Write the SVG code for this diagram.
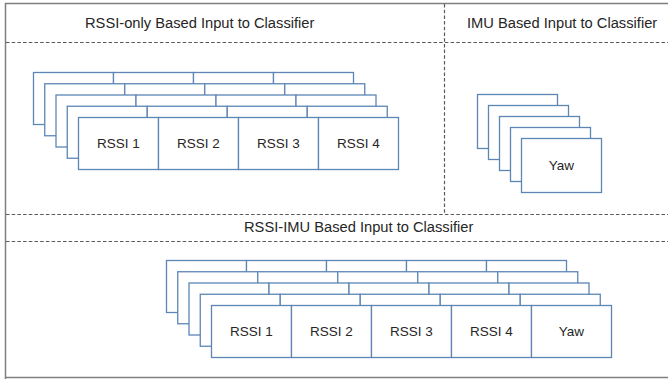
<svg xmlns="http://www.w3.org/2000/svg" width="668" height="379" viewBox="0 0 668 379">
<style>
.frame{fill:none;stroke:#7f7f7f;stroke-width:1.5}
.dash{fill:none;stroke:#595959;stroke-width:1.2;stroke-dasharray:3.5 2.2}
.cell{fill:#ffffff;stroke:#5d86b5;stroke-width:1.3}
.title{font-family:"Liberation Sans",Arial,sans-serif;font-size:14.7px;fill:#262626}
.lbl{font-family:"Liberation Sans",Arial,sans-serif;font-size:13.5px;fill:#262626;text-anchor:middle}
</style>
<defs>
<g id="row4">
<rect class="cell" x="0" y="0" width="80" height="52"/>
<rect class="cell" x="80" y="0" width="80" height="52"/>
<rect class="cell" x="160" y="0" width="80" height="52"/>
<rect class="cell" x="240" y="0" width="80" height="52"/>
</g>
<g id="row5">
<use href="#row4"/>
<rect class="cell" x="320" y="0" width="80" height="52"/>
</g>
<rect id="imu" class="cell" x="0" y="0" width="80" height="54"/>
</defs>
<rect width="668" height="379" fill="#ffffff"/>
<g id="sections">
<path class="frame" d="M5.5,379 V3.5 H668 M5.5,377.5 H668"/>
<path class="dash" d="M6,42.5 H668 M444.5,4 V214 M6,214.5 H668 M6,241.5 H668"/>
</g>
<g id="rssi-only-title"><text class="title" x="85" y="28">RSSI-only Based Input to Classifier</text></g>
<g id="imu-title"><text class="title" x="467" y="28">IMU Based Input to Classifier</text></g>
<g id="rssi-imu-title"><text class="title" x="244" y="232">RSSI-IMU Based Input to Classifier</text></g>
<g id="rssi-only-stack">
<use href="#row4" x="33.5" y="72.5"/>
<use href="#row4" x="44.75" y="83.75"/>
<use href="#row4" x="56" y="95"/>
<use href="#row4" x="67.25" y="106.25"/>
<use href="#row4" x="78.5" y="117.5"/>
<text class="lbl" x="118.5" y="148">RSSI 1</text>
<text class="lbl" x="198.5" y="148">RSSI 2</text>
<text class="lbl" x="278.5" y="148">RSSI 3</text>
<text class="lbl" x="358.5" y="148">RSSI 4</text>
</g>
<g id="imu-stack">
<use href="#imu" x="477.5" y="94.5"/>
<use href="#imu" x="488.5" y="105.5"/>
<use href="#imu" x="499.5" y="116.5"/>
<use href="#imu" x="510.5" y="127.5"/>
<use href="#imu" x="521.5" y="138.5"/>
<text class="lbl" x="561.5" y="170">Yaw</text>
</g>
<g id="rssi-imu-stack">
<use href="#row5" x="166.5" y="260.5"/>
<use href="#row5" x="177.75" y="271.75"/>
<use href="#row5" x="189" y="283"/>
<use href="#row5" x="200.25" y="294.25"/>
<use href="#row5" x="211.5" y="305.5"/>
<text class="lbl" x="251.5" y="336">RSSI 1</text>
<text class="lbl" x="331.5" y="336">RSSI 2</text>
<text class="lbl" x="411.5" y="336">RSSI 3</text>
<text class="lbl" x="491.5" y="336">RSSI 4</text>
<text class="lbl" x="571.5" y="336">Yaw</text>
</g>
<g id="connectors"></g>
</svg>
